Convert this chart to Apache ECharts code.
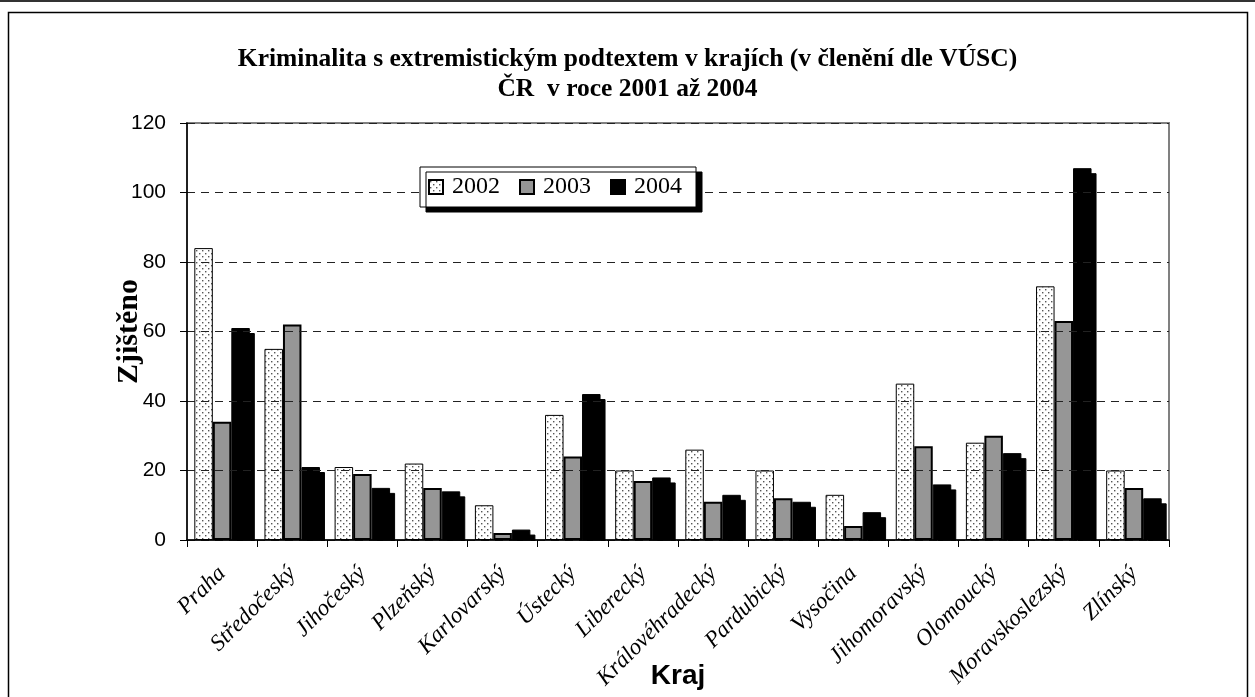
<!DOCTYPE html>
<html><head><meta charset="utf-8">
<script src="https://cdn.jsdelivr.net/npm/echarts@6/dist/echarts.min.js"></script>
<style>html,body{margin:0;padding:0;background:#fff;}#c{width:1255px;height:697px;}</style>
</head><body><div id="c"></div>
<script>
const categories = ['Praha','Středočeský','Jihočeský','Plzeňský','Karlovarský','Ústecký','Liberecký','Královéhradecký','Pardubický','Vysočina','Jihomoravský','Olomoucký','Moravskoslezský','Zlínský'];
const seriesNames = ['2002','2003','2004'];
const values2002 = [84,55,21,22,10,36,20,26,20,13,45,28,73,20];
const values2003 = [34,62,19,15,2,24,17,11,12,4,27,30,63,15];
const values2004 = [61,21,15,14,3,42,18,13,11,8,16,25,107,12];
const yTicks = {min:0, max:120, interval:20};

// dotted pattern for 2002
const pc = document.createElement('canvas');
pc.width = 6; pc.height = 6;
const px = pc.getContext('2d');
px.fillStyle = '#fff'; px.fillRect(0,0,6,6);
px.fillStyle = '#555';
px.fillRect(1,1,1.4,1.4);
px.fillRect(4,4,1.4,1.4);

const chart = echarts.init(document.getElementById('c'), null, {renderer:'canvas'});
const serif = "'Liberation Serif','Times New Roman',serif";
const sans = "'Liberation Sans',Arial,sans-serif";
chart.setOption({
  animation:false,
  backgroundColor:'#fff',
  title:{
    text:'Kriminalita s extremistickým podtextem v krajích (v členění dle VÚSC)\nČR  v roce 2001 až 2004',
    left:'center', top:39,
    textStyle:{fontFamily:serif, fontWeight:'bold', fontSize:25.5, lineHeight:30, color:'#000'}
  },
  legend:{
    left:420, top:167, z:40,
    padding:[8,14,8,8],
    icon:'rect',
    itemWidth:14, itemHeight:14, itemGap:19,
    backgroundColor:'#fff', borderColor:'#000', borderWidth:1,
    shadowColor:'#000', shadowBlur:0, shadowOffsetX:6, shadowOffsetY:5,
    textStyle:{fontFamily:serif, fontSize:24, color:'#000', padding:[0,0,0,4]},
    itemStyle:{shadowColor:'rgba(0,0,0,0)', shadowBlur:0, shadowOffsetX:0, shadowOffsetY:0},
    data:seriesNames
  },
  grid:{left:187, right:86, top:123, bottom:157, containLabel:false, outerBoundsMode:'none',
        show:true, borderColor:'#808080', borderWidth:2},
  xAxis:{
    type:'category', data:categories, z:20,
    name:'Kraj', nameLocation:'middle', nameGap:122, nameMoveOverlap:false,
    nameTextStyle:{fontFamily:sans, fontWeight:'bold', fontSize:28, color:'#000'},
    axisLine:{lineStyle:{color:'#000', width:1.5}},
    axisTick:{show:true, interval:0, length:7, lineStyle:{color:'#000'}},
    axisLabel:{interval:0, rotate:45, margin:30, fontFamily:serif, fontStyle:'italic', fontSize:23, color:'#000'}
  },
  yAxis:{
    type:'value', min:yTicks.min, max:yTicks.max, interval:yTicks.interval, z:20,
    name:'Zjištěno', nameLocation:'middle', nameGap:43, nameRotate:90, nameMoveOverlap:false,
    nameTextStyle:{fontFamily:serif, fontWeight:'bold', fontSize:30, color:'#000'},
    axisLine:{show:true, lineStyle:{color:'#000', width:1.5}},
    axisTick:{show:true, length:7, lineStyle:{color:'#000'}},
    axisLabel:{margin:21, fontFamily:sans, fontSize:21, color:'#000'},
    splitLine:{show:true, lineStyle:{color:'#222', type:[8,6], width:1}}
  },
  graphic:[
    {type:'rect', z:10, shape:{x:188, y:541, width:1000, height:8}, style:{fill:'#fff'}},
    {type:'line', z:30, shape:{x1:0, y1:1, x2:1255, y2:1}, style:{stroke:'#333', lineWidth:2}},
    {type:'rect', z:30, shape:{x:8.5, y:12.5, width:1239, height:700}, style:{fill:'none', stroke:'#000', lineWidth:1.5}}
  ],
  series:[
    {name:'2002', type:'bar', data:values2002, barWidth:18.5, barGap:'0%',
     itemStyle:{color:{image:pc, repeat:'repeat'}, borderColor:'#000', borderWidth:1}},
    {name:'2003', type:'bar', data:values2003, barWidth:18.5, barGap:'0%',
     itemStyle:{color:'#969696', borderColor:'#000', borderWidth:2}},
    {name:'2004', type:'bar', data:values2004, barWidth:18.5, barGap:'0%',
     itemStyle:{color:'#000', borderColor:'#000', borderWidth:1, shadowColor:'#000', shadowBlur:0, shadowOffsetX:5, shadowOffsetY:5}}
  ]
});
</script></body></html>
